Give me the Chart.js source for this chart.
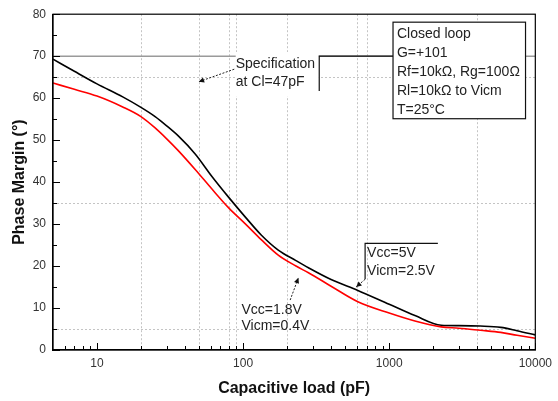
<!DOCTYPE html>
<html>
<head>
<meta charset="utf-8">
<script src="https://cdn.jsdelivr.net/npm/chart.js@4.4.0/dist/chart.umd.min.js"></script>
<style>
  html, body { margin: 0; padding: 0; background: #fff; }
  #wrap { width: 558px; height: 401px; }
</style>
</head>
<body>
<div id="wrap"><canvas id="chart" width="558" height="401"></canvas></div>
<script>
// Capacitive load (pF) and phase margin (deg)
const loadPF = [5, 7, 10, 15, 20, 25, 30, 36, 47, 61, 80, 104, 133, 174, 230, 280, 400, 610, 1000, 1500, 2270, 3000, 4200, 5800, 7500, 10000];
const pm5V   = [69.3, 66.4, 63.4, 60.3, 57.8, 55.6, 53.4, 51.0, 46.7, 41.4, 36.3, 31.6, 27.4, 23.8, 21.3, 19.6, 16.8, 14.2, 10.9, 8.2, 5.9, 5.8, 5.7, 5.4, 4.6, 3.6];
const pm18V  = [63.6, 62.1, 60.5, 57.9, 55.6, 52.9, 50.3, 47.5, 43.0, 38.4, 33.8, 30.0, 26.3, 22.6, 20.0, 18.4, 15.2, 11.5, 8.8, 6.9, 5.5, 5.2, 4.7, 4.2, 3.5, 2.8];
const specLimit = 70;

// axis labels and grid positions
const xLabels = [10, 100, 1000, 10000];
const xMinor = [6, 7, 8, 9, 20, 30, 40, 50, 60, 70, 80, 90, 200, 300, 400, 500, 600, 700, 800, 900, 2000, 3000, 4000, 5000, 6000, 7000, 8000, 9000];
const yLabels = [0, 10, 20, 30, 40, 50, 60, 70, 80];
const yMinor = [5, 15, 25, 35, 45, 55, 65, 75];
const xGrid = [20, 50, 80, 90, 200, 600, 700, 4000];
const yGrid = [5, 35, 65];

const boxLines = ["Closed loop", "G=+101", "Rf=10k\u03A9, Rg=100\u03A9", "Rl=10k\u03A9 to Vicm", "T=25\u00B0C"];
const specText = ["Specification", "at Cl=47pF"];
const hiText = ["Vcc=5V", "Vicm=2.5V"];
const loText = ["Vcc=1.8V", "Vicm=0.4V"];

const FONT = "Arial, 'Liberation Sans', sans-serif";

const toPoints = (ys) => loadPF.map((x, i) => ({ x: x, y: ys[i] }));

// grid lines, inward ticks and frame
const framePlugin = {
  id: "frame",
  beforeDatasetsDraw(chart) {
    const { ctx, chartArea: a, scales: { x, y } } = chart;
    ctx.save();
    ctx.strokeStyle = "#c4c4c4";
    ctx.lineWidth = 1;
    ctx.setLineDash([2, 2]);
    xGrid.forEach(v => {
      const px = Math.round(x.getPixelForValue(v)) + 0.5;
      ctx.beginPath(); ctx.moveTo(px, a.top); ctx.lineTo(px, a.bottom); ctx.stroke();
    });
    yGrid.forEach(v => {
      const py = Math.round(y.getPixelForValue(v)) + 0.5;
      ctx.beginPath(); ctx.moveTo(a.left, py); ctx.lineTo(a.right, py); ctx.stroke();
    });
    ctx.restore();
  },
  afterDraw(chart) {
    const { ctx, chartArea: a, scales: { x, y } } = chart;
    ctx.save();
    ctx.strokeStyle = "#000";
    ctx.lineWidth = 1.2;
    ctx.strokeRect(a.left, a.top, a.right - a.left, a.bottom - a.top);
    ctx.lineWidth = 1;
    const tick = (x1, y1, x2, y2) => { ctx.beginPath(); ctx.moveTo(x1, y1); ctx.lineTo(x2, y2); ctx.stroke(); };
    xLabels.forEach(v => { const px = Math.round(x.getPixelForValue(v)) + 0.5; tick(px, a.bottom, px, a.bottom - 7); });
    xMinor.forEach(v => { const px = Math.round(x.getPixelForValue(v)) + 0.5; tick(px, a.bottom, px, a.bottom - 4); });
    yLabels.forEach(v => { const py = Math.round(y.getPixelForValue(v)) + 0.5; tick(a.left, py, a.left + 7, py); });
    yMinor.forEach(v => { const py = Math.round(y.getPixelForValue(v)) + 0.5; tick(a.left, py, a.left + 4, py); });
    ctx.restore();
  }
};

// text boxes and arrows
const notesPlugin = {
  id: "notes",
  afterDatasetsDraw(chart) {
    const { ctx, scales: { x, y } } = chart;
    const P = (vx, vy) => [x.getPixelForValue(vx), y.getPixelForValue(vy)];
    ctx.save();
    ctx.font = "14px " + FONT;
    ctx.fillStyle = "#222";
    ctx.textBaseline = "middle";

    const line = (pts) => {
      ctx.beginPath();
      pts.forEach((p, i) => i ? ctx.lineTo(p[0], p[1]) : ctx.moveTo(p[0], p[1]));
      ctx.stroke();
    };
    const arrow = (from, to) => {
      ctx.save();
      ctx.strokeStyle = "#222";
      ctx.lineWidth = 1;
      ctx.setLineDash([2, 1.5]);
      line([from, to]);
      ctx.setLineDash([]);
      const ang = Math.atan2(to[1] - from[1], to[0] - from[0]);
      ctx.beginPath();
      ctx.moveTo(to[0], to[1]);
      ctx.lineTo(to[0] - 6 * Math.cos(ang - 0.45), to[1] - 6 * Math.sin(ang - 0.45));
      ctx.lineTo(to[0] - 6 * Math.cos(ang + 0.45), to[1] - 6 * Math.sin(ang + 0.45));
      ctx.closePath();
      ctx.fillStyle = "#111";
      ctx.fill();
      ctx.restore();
    };

    // specification note
    const s0 = P(89, 71), s1 = P(330, 60.5);
    ctx.fillStyle = "#fff";
    ctx.fillRect(s0[0], s0[1], s1[0] - s0[0], s1[1] - s0[1]);
    ctx.fillStyle = "#222";
    specText.forEach((t, i) => { const p = P(89, [68.2, 63.8][i]); ctx.fillText(t, p[0], p[1]); });
    ctx.strokeStyle = "#111";
    ctx.lineWidth = 1.2;
    line([P(332, 61.7), P(332, 70), P(1062, 70)]);
    arrow(P(87, 66.9), P(49.7, 63.9));

    // test condition box
    const b0 = P(1062, 78.1), b1 = P(8570, 55.1);
    ctx.fillStyle = "#fff";
    ctx.fillRect(b0[0], b0[1], b1[0] - b0[0], b1[1] - b0[1]);
    ctx.strokeStyle = "#111";
    ctx.strokeRect(b0[0], b0[1], b1[0] - b0[0], b1[1] - b0[1]);
    ctx.fillStyle = "#222";
    boxLines.forEach((t, i) => { const p = P(1130, [75.2, 70.7, 66.2, 61.6, 57.2][i]); ctx.fillText(t, p[0], p[1]); });

    // Vcc=5V label
    line([P(684, 16.85), P(684, 25.4), P(2153, 25.4)]);
    hiText.forEach((t, i) => { const p = P(706, [23.0, 18.8][i]); ctx.fillText(t, p[0], p[1]); });
    arrow(P(684, 16.85), P(594, 15.0));

    // Vcc=1.8V label
    loText.forEach((t, i) => { const p = P(97.5, [9.5, 5.6][i]); ctx.fillText(t, p[0], p[1]); });
    arrow(P(210, 11.9), P(239, 17.2));

    ctx.restore();
  }
};

const lineStyle = { pointRadius: 0, fill: false, cubicInterpolationMode: "monotone" };

new Chart(document.getElementById("chart"), {
  type: "line",
  data: {
    datasets: [
      Object.assign({ label: "Spec", data: [{ x: 5, y: specLimit }, { x: 10000, y: specLimit }], borderColor: "#9a9a9a", borderWidth: 1.5 }, lineStyle),
      Object.assign({ label: "Vcc=1.8V", data: toPoints(pm18V), borderColor: "#ff0000", borderWidth: 1.6 }, lineStyle),
      Object.assign({ label: "Vcc=5V", data: toPoints(pm5V), borderColor: "#000000", borderWidth: 1.6 }, lineStyle)
    ]
  },
  options: {
    responsive: false,
    animation: false,
    devicePixelRatio: 1,
    layout: { padding: { left: 0, top: 13, right: 20, bottom: 0 } },
    plugins: { legend: { display: false }, tooltip: { enabled: false } },
    scales: {
      x: {
        type: "logarithmic",
        min: 5,
        max: 10000,
        afterBuildTicks: s => { s.ticks = xLabels.map(v => ({ value: v })); },
        afterFit: s => { s.height = 51; },
        grid: { display: false, drawTicks: false },
        border: { display: true, color: "#000", width: 1.2 },
        ticks: {
          autoSkip: false,
          maxRotation: 0,
          padding: 6,
          color: "#333",
          font: { family: FONT, size: 12 },
          callback: v => String(v)
        },
        title: {
          display: true,
          text: "Capacitive load (pF)",
          color: "#111",
          font: { family: FONT, size: 16, weight: "bold", lineHeight: 1.2 },
          padding: { top: 0, bottom: 3 }
        }
      },
      y: {
        min: 0,
        max: 80,
        afterBuildTicks: s => { s.ticks = yLabels.map(v => ({ value: v })); },
        afterFit: s => { s.width = 53; },
        grid: { display: false, drawTicks: false },
        border: { display: true, color: "#000", width: 1.2 },
        ticks: {
          padding: 7,
          color: "#333",
          font: { family: FONT, size: 12 }
        },
        title: {
          display: true,
          text: "Phase Margin (\u00B0)",
          color: "#111",
          font: { family: FONT, size: 16, weight: "bold", lineHeight: 1.2 },
          padding: { top: 10, bottom: 0 }
        }
      }
    }
  },
  plugins: [framePlugin, notesPlugin]
});
</script>
</body>
</html>
